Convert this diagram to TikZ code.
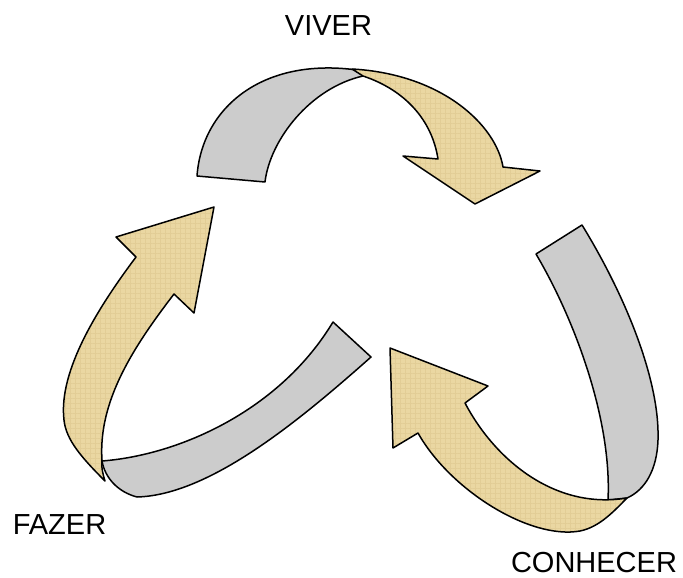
\documentclass[tikz,border=0pt]{standalone}
\usepackage{fontspec}
\setmainfont{Liberation Sans}
\usetikzlibrary{patterns.meta}
\definecolor{parch}{RGB}{234,215,162}
\definecolor{parchdark}{RGB}{226,205,150}
\definecolor{ribgray}{RGB}{204,204,204}
\begin{document}
\begin{tikzpicture}[x=1pt,y=-1pt,
  front/.style={preaction={fill=parch},
    pattern={Hatch[angle=0,distance=5pt,line width=0.7pt]},pattern color=parchdark,
    draw=black,line width=1.5pt,line join=round},
  back/.style={fill=ribgray,draw=black,line width=1.5pt,line join=round},
  lbl/.style={font=\fontsize{29}{34}\selectfont,inner sep=0pt}]
\useasboundingbox (0,0) rectangle (683,578);
% top arrow (VIVER)
\draw[back] (197,176) .. controls (202,108) and (262,57) .. (357,70)
  -- (363,76) .. controls (310,88) and (270,140) .. (265,182) -- cycle;
\draw[front] (352,69) .. controls (442,74) and (496,125) .. (503,167)
  -- (540,171) -- (475,204) -- (403,156) -- (438,159)
  .. controls (432,120) and (405,90) .. (363,76) -- cycle;
% left arrow (FAZER)
\draw[back] (102,461) .. controls (180,455) and (280,410) .. (333,322)
  -- (371,357) .. controls (300,420) and (210,495) .. (137,497)
  .. controls (118,492) and (105,478) .. cycle;
\draw[front] (214,207) -- (116,237) -- (136,257)
  .. controls (100,305) and (58,370) .. (64,420)
  .. controls (66,440) and (82,458) .. (105,481)
  .. controls (103,474) and (101,468) .. (102,460)
  .. controls (98,400) and (135,345) .. (174,294)
  -- (194,313) -- cycle;
% right arrow (CONHECER)
\draw[back] (536,254) -- (582,225)
  .. controls (625,295) and (660,380) .. (658,440)
  .. controls (657,470) and (645,490) .. (627,498)
  -- (608,500) .. controls (612,420) and (575,320) .. cycle;
\draw[front] (390,348) -- (488,386) -- (465,403)
  .. controls (495,460) and (555,510) .. (627,498)
  .. controls (615,510) and (600,527) .. (580,531)
  .. controls (530,540) and (450,490) .. (418,433)
  -- (393,448) -- cycle;
% labels
\node[lbl] (viver) at (328.5,26) {VIVER};
\node[lbl] (fazer) at (59.5,525) {FAZER};
\node[lbl] (conhecer) at (594,563) {CONHECER};
\end{tikzpicture}
\end{document}
